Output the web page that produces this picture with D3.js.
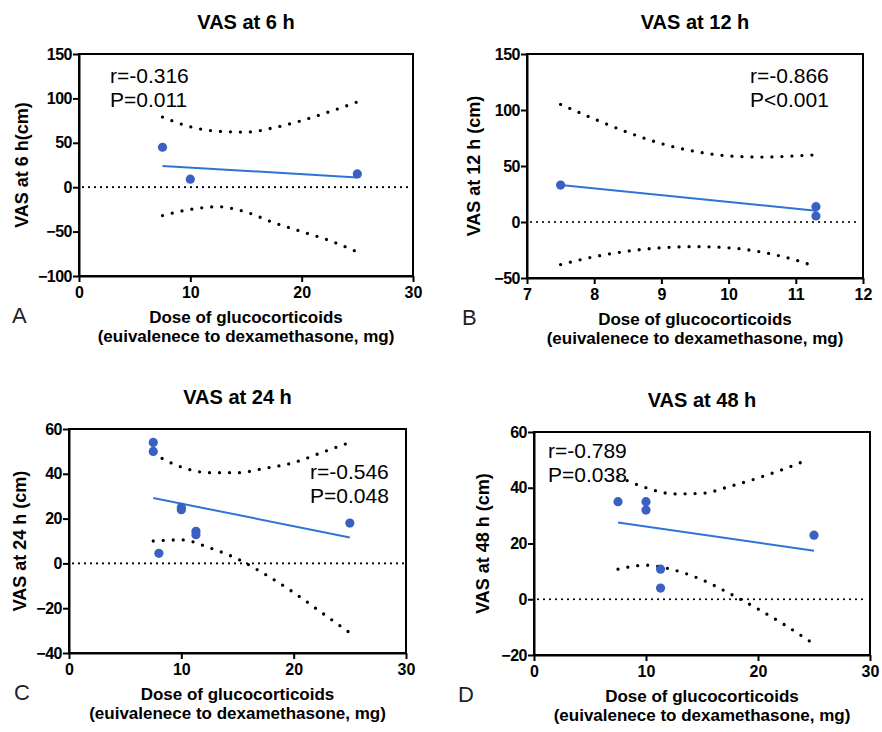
<!DOCTYPE html>
<html>
<head>
<meta charset="utf-8">
<script src="https://cdn.jsdelivr.net/npm/d3@7"></script>
<style>
  body { margin: 0; background: #fff; }
  svg { font-family: "Liberation Sans", Arial, sans-serif; }
</style>
</head>
<body>
<svg id="svg" width="882" height="732"></svg>
<script>
// chart data
const titles = ["VAS at 6 h", "VAS at 12 h", "VAS at 24 h", "VAS at 48 h"]
const letters = ["A", "B", "C", "D"]
const yLabels = ["VAS at 6 h(cm)", "VAS at 12 h (cm)", "VAS at 24 h (cm)", "VAS at 48 h (cm)"]
const xLabelLines = ["Dose of glucocorticoids", "(euivalenece to dexamethasone, mg)"]
const rTexts = ["r=-0.316", "r=-0.866", "r=-0.546", "r=-0.789"]
const pTexts = ["P=0.011", "P<0.001", "P=0.048", "P=0.038"]

const xDomains = [[0, 30], [7, 12], [0, 30], [0, 30]]
const yDomains = [[-100, 150], [-50, 150], [-40, 60], [-20, 60]]
const xTicks = [[0, 10, 20, 30], [7, 8, 9, 10, 11, 12], [0, 10, 20, 30], [0, 10, 20, 30]]
const yTicks = [[-100, -50, 0, 50, 100, 150], [-50, 0, 50, 100, 150], [-40, -20, 0, 20, 40, 60], [-20, 0, 20, 40, 60]]

// [dose, VAS]
const pointsA = [[7.5, 45], [10, 9], [25, 15]]
const pointsB = [[7.5, 33], [11.3, 13.7], [11.3, 5.4]]
const pointsC = [[7.5, 54], [7.5, 50], [8, 4.5], [10, 25], [10, 24], [11.3, 14.3], [11.3, 12.8], [25, 18]]
const pointsD = [[7.5, 35], [10, 35], [10, 32], [11.3, 10.8], [11.3, 4], [25, 23]]

// regression lines
const fitA = [[7.5, 24], [25, 11]]
const fitB = [[7.5, 33], [11.3, 10]]
const fitC = [[7.5, 29.2], [25, 11.6]]
const fitD = [[7.5, 27.5], [25, 17.4]]

// 95% confidence bands
const upperA = [[7.5, 79], [10, 68], [12.5, 63], [15, 62], [17.5, 67], [20, 75], [22.5, 85], [25, 96]]
const lowerA = [[7.5, -32], [10, -25], [12.5, -22], [15, -28], [17.5, -40], [20, -50], [22.5, -60], [25, -73]]
const upperB = [[7.5, 105], [8, 92], [8.5, 80], [9, 70], [9.5, 63], [10, 59], [10.5, 58], [11, 59], [11.3, 60]]
const lowerB = [[7.5, -38], [8, -31], [8.5, -26], [9, -23], [9.5, -22], [10, -23], [10.5, -27], [11, -34], [11.3, -40]]
const upperC = [[7.5, 49], [10, 43], [12.5, 40.5], [15, 40.5], [17.5, 42.5], [20, 45], [22.5, 49.5], [25, 54]]
const lowerC = [[7.5, 10], [10, 10.5], [12.5, 7], [15, 2], [17.5, -5], [20, -13], [22.5, -22], [25, -31]]
const upperD = [[7.5, 44], [10, 40], [12.5, 37.8], [15, 38], [17.5, 40.5], [20, 43.5], [22.5, 47], [24.6, 50.3]]
const lowerD = [[7.5, 10.8], [10, 12.2], [12.5, 10.5], [15, 7], [17.5, 2], [20, -3.5], [22.5, -9.5], [24.6, -15]]

const points = [pointsA, pointsB, pointsC, pointsD]
const fits = [fitA, fitB, fitC, fitD]
const uppers = [upperA, upperB, upperC, upperD]
const lowers = [lowerA, lowerB, lowerC, lowerD]

// layout of each panel (pixels)
const frames = [
    {left: 79, right: 413, top: 54, bottom: 276, letterX: 12, statX: 110, statY: 29, yLabDx: 57},
    {left: 527, right: 863, top: 54, bottom: 278, letterX: 462, statX: 750, statY: 29, yLabDx: 53},
    {left: 69, right: 406, top: 429, bottom: 653, letterX: 14, statX: 310, statY: 50, yLabDx: 49},
    {left: 534, right: 870, top: 432, bottom: 655, letterX: 458, statX: 548, statY: 26, yLabDx: 51}
]

const svg = d3.select("#svg")
const pointColor = "#3a60c2"
const lineColor = "#2f74d4"

frames.forEach((f, i) => {
    const x = d3.scaleLinear().domain(xDomains[i]).range([f.left, f.right])
    const y = d3.scaleLinear().domain(yDomains[i]).range([f.bottom, f.top])
    const g = svg.append("g")
    const cx = (f.left + f.right) / 2

    // title
    g.append("text").attr("x", cx).attr("y", f.top - 25)
        .attr("text-anchor", "middle").attr("font-size", 20).attr("font-weight", "bold")
        .text(titles[i])

    // zero line
    g.append("line")
        .attr("x1", f.left + 4).attr("x2", f.right - 2)
        .attr("y1", y(0)).attr("y2", y(0))
        .attr("stroke", "#000").attr("stroke-width", 2.2)
        .attr("stroke-dasharray", "0,6").attr("stroke-linecap", "round")

    // confidence bands
    const band = d3.line().x(d => x(d[0])).y(d => y(d[1])).curve(d3.curveMonotoneX)
    ;[uppers[i], lowers[i]].forEach(b => {
        g.append("path").attr("d", band(b))
            .attr("fill", "none").attr("stroke", "#000").attr("stroke-width", 3.3)
            .attr("stroke-dasharray", "0,10").attr("stroke-linecap", "round")
    })

    // regression line
    g.append("path").attr("d", d3.line().x(d => x(d[0])).y(d => y(d[1]))(fits[i]))
        .attr("fill", "none").attr("stroke", lineColor).attr("stroke-width", 2)

    // data points
    g.selectAll("circle").data(points[i]).enter().append("circle")
        .attr("cx", d => x(d[0])).attr("cy", d => y(d[1])).attr("r", 4.6)
        .attr("fill", pointColor)

    // frame
    g.append("rect").attr("x", f.left).attr("y", f.top)
        .attr("width", f.right - f.left).attr("height", f.bottom - f.top)
        .attr("fill", "none").attr("stroke", "#000").attr("stroke-width", 2)

    // axes
    const xAxis = g.append("g").attr("transform", `translate(0,${f.bottom})`)
        .call(d3.axisBottom(x).tickValues(xTicks[i]).tickFormat(d3.format("d"))
            .tickSize(6).tickPadding(5).tickSizeOuter(0))
    const yAxis = g.append("g").attr("transform", `translate(${f.left},0)`)
        .call(d3.axisLeft(y).tickValues(yTicks[i]).tickFormat(d3.format("d"))
            .tickSize(6).tickPadding(1).tickSizeOuter(0))
    ;[xAxis, yAxis].forEach(a => {
        a.attr("font-size", 16).attr("font-weight", "bold")
            .attr("font-family", "Liberation Sans, Arial, sans-serif")
        a.select(".domain").attr("stroke-width", 2)
        a.selectAll(".tick line").attr("stroke-width", 2)
        a.selectAll(".tick text").attr("fill", "#000")
    })
    yAxis.selectAll(".tick text").attr("letter-spacing", -0.5)

    // stats
    g.append("text").attr("x", f.statX).attr("y", f.top + f.statY)
        .attr("font-size", 21).text(rTexts[i])
    g.append("text").attr("x", f.statX).attr("y", f.top + f.statY + 24)
        .attr("font-size", 21).text(pTexts[i])

    // x label
    xLabelLines.forEach((t, k) => {
        g.append("text").attr("x", cx).attr("y", f.bottom + 47 + k * 19)
            .attr("text-anchor", "middle").attr("font-size", 17).attr("font-weight", "bold")
            .text(t)
    })

    // y label
    const ly = (f.top + f.bottom) / 2
    const lx = f.left - f.yLabDx + 6
    g.append("text").attr("transform", `translate(${lx},${ly}) rotate(-90)`)
        .attr("text-anchor", "middle").attr("font-size", 18).attr("font-weight", "bold")
        .text(yLabels[i])

    // panel letter
    g.append("text").attr("x", f.letterX).attr("y", f.bottom + 47)
        .attr("font-size", 22).attr("fill", "#222").text(letters[i])
})
</script>
</body>
</html>
